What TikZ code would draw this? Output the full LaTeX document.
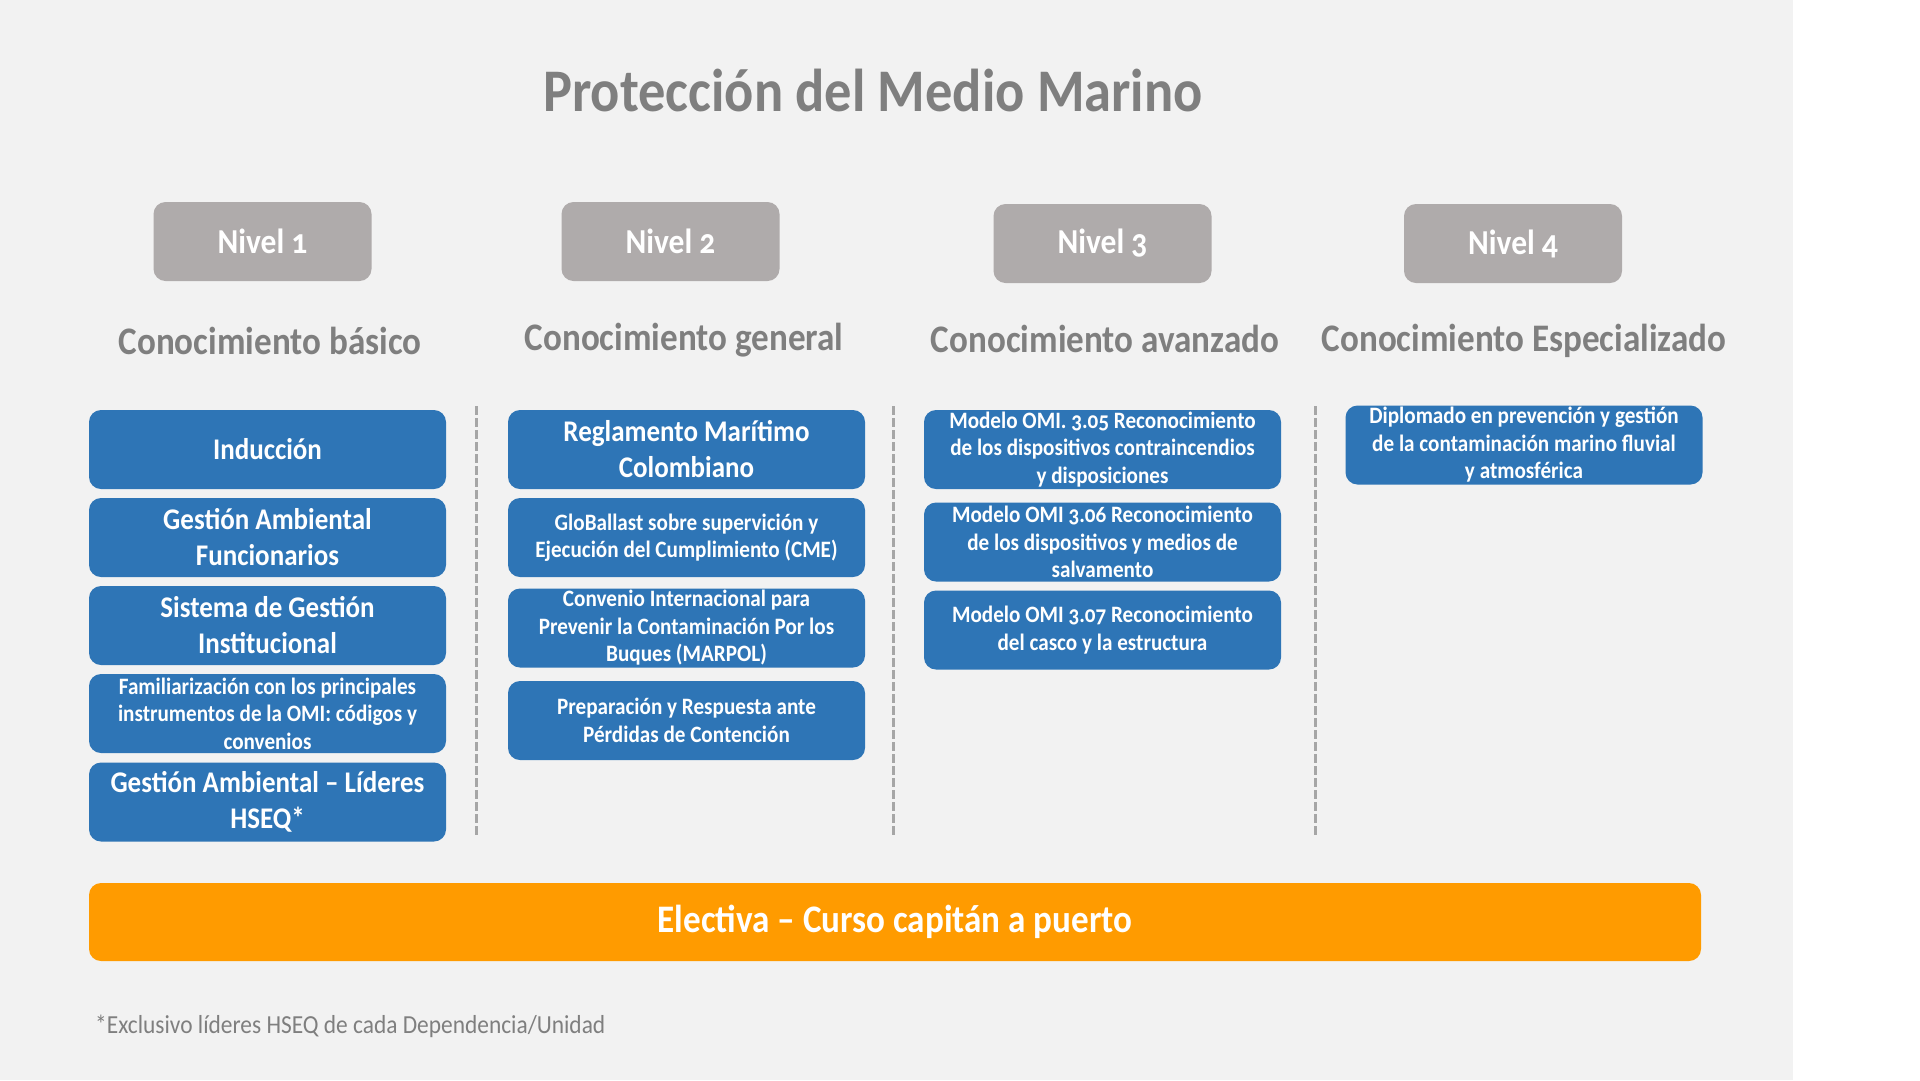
\documentclass[tikz,border=0pt]{standalone}
\usepackage{fontspec}
\setmainfont{Carlito}[FakeStretch=0.9, Numbers=OldStyle]
\definecolor{fondo}{HTML}{F2F2F2}
\definecolor{gris}{HTML}{AFABAB}
\definecolor{azul}{HTML}{2E75B6}
\definecolor{naranja}{HTML}{FF9B00}
\definecolor{texto}{HTML}{7F7F7F}
\definecolor{guion}{HTML}{A6A6A6}
\newcommand{\fs}[2]{\fontsize{#1}{#2}\selectfont}

\begin{document}
\begin{tikzpicture}[x=1pt, y=-1pt,
  nivel/.style={fill=gris, rounded corners=12pt, minimum width=218pt, minimum height=79pt,
    inner sep=0pt, text=white, font=\fs{35}{42}\bfseries},
  conoc/.style={anchor=base, inner sep=0pt, text=texto, font=\fs{39}{46}\bfseries},
  curso/.style={fill=azul, rounded corners=12pt, minimum width=357pt, minimum height=79pt,
    inner sep=0pt, text=white, align=center, font=\fs{30}{36}\bfseries},
  cursochico/.style={curso, font=\fs{23.5}{27.5}\bfseries},
  separador/.style={draw=guion, line width=3pt, dash pattern=on 9pt off 3pt}]
  % ---------------------------------------------------------------- canvas
  \useasboundingbox (0,0) rectangle (1920,1080);
  \fill[white] (0,0) rectangle (1920,1080);
  \fill[fondo] (0,0) rectangle (1793,1080);
  \node[anchor=base, inner sep=0pt, text=texto, font=\fs{60.5}{72}\bfseries] (titulo) at (873,111)
    {Protección del Medio Marino};
  % ---------------------------------------------------------------- levels and their headings
  \node[nivel] (n1) at (262.5,241.5) {Nivel 1};
  \node[nivel] (n2) at (670.5,241.5) {Nivel 2};
  \node[nivel] (n3) at (1102.5,243.5) {Nivel 3};
  \node[nivel] (n4) at (1513,243.5) {Nivel 4};
  \node[conoc] (c1) at (270,354) {Conocimiento básico};
  \node[conoc] (c2) at (684,350) {Conocimiento general};
  \node[conoc] (c3) at (1105,352) {Conocimiento avanzado};
  \node[conoc] (c4) at (1524,351) {Conocimiento Especializado};
  % column separators
  \draw[separador] (476,406) -- (476,836);
  \draw[separador] (893,406) -- (893,836);
  \draw[separador] (1315,406) -- (1315,836);
  % ---------------------------------------------------------------- nivel 1
  \node[curso] (b11) at (267.5,449.5) {Inducción};
  \node[curso] (b12) at (267.5,537.5) {Gestión Ambiental\\Funcionarios};
  \node[curso] (b13) at (267.5,625.5) {Sistema de Gestión\\Institucional};
  \node[cursochico] (b14) at (267.5,713.5)
    {Familiarización con los principales\\instrumentos de la OMI: códigos y\\convenios};
  \node[curso] (b15) at (267.5,802) {Gestión Ambiental – Líderes\\HSEQ*};
  % ---------------------------------------------------------------- nivel 2
  \node[curso] (b21) at (686.5,449.5) {Reglamento Marítimo\\Colombiano};
  \node[cursochico] (b22) at (686.5,537.5)
    {GloBallast sobre supervición y\\Ejecución del Cumplimiento (CME)};
  \node[cursochico] (b23) at (686.5,628)
    {Convenio Internacional para\\Prevenir la Contaminación Por los\\Buques (MARPOL)};
  \node[cursochico] (b24) at (686.5,720.5) {Preparación y Respuesta ante\\Pérdidas de Contención};
  % ---------------------------------------------------------------- nivel 3
  \node[cursochico] (b31) at (1102.5,449.5)
    {Modelo OMI. 3.05 Reconocimiento\\de los dispositivos contraincendios\\y disposiciones};
  \node[cursochico] (b32) at (1102.5,542)
    {Modelo OMI 3.06 Reconocimiento\\de los dispositivos y medios de\\salvamento};
  \node[cursochico] (b33) at (1102.5,630) {Modelo OMI 3.07 Reconocimiento\\del casco y la estructura};
  % ---------------------------------------------------------------- nivel 4
  \node[cursochico] (b41) at (1524,445)
    {Diplomado en prevención y gestión\\de la contaminación marino fluvial\\y atmosférica};
  % ---------------------------------------------------------------- elective and footnote
  \node[fill=naranja, rounded corners=12pt, minimum width=1612pt, minimum height=78pt, inner sep=0pt,
    text=white, font=\fs{39}{46}\bfseries] (electiva) at (895,922) {Electiva – Curso capitán a puerto};
  \node[anchor=base west, inner sep=0pt, text=texto, font=\fs{26}{31}] (nota) at (95,1033)
    {*Exclusivo líderes HSEQ de cada Dependencia/Unidad};
\end{tikzpicture}
\end{document}
